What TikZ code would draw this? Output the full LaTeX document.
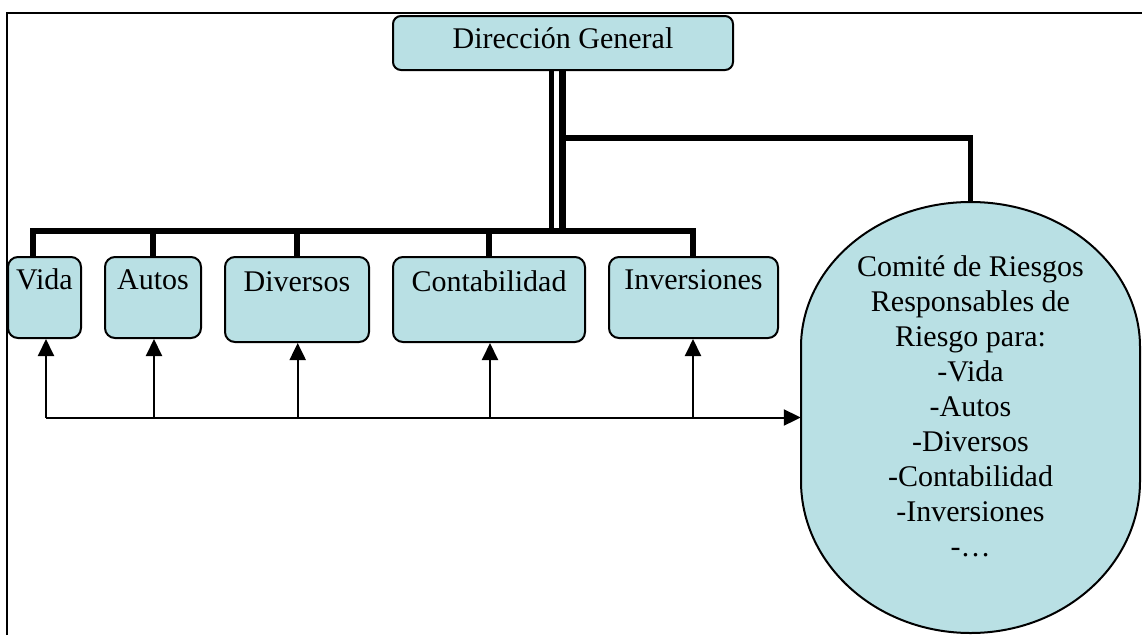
\documentclass[tikz,border=0pt]{standalone}
\usepackage{fontspec}
\setmainfont{Liberation Serif}
\usetikzlibrary{arrows.meta}
\definecolor{boxfill}{RGB}{185,224,228}
\begin{document}
\begin{tikzpicture}[x=1pt,y=1pt,
  font=\fontsize{30}{35}\selectfont,
  unitbox/.style={draw, fill=boxfill, line width=2pt, rounded corners=10pt,
    inner sep=0pt, anchor=north},
  busline/.style={line width=5.5pt, line join=miter},
  feed/.style={line width=2pt, -{Triangle[length=17pt,width=16pt]}}]
\useasboundingbox (0,0) rectangle (1142,-635);

% partial page frame (top and left)
\draw[line width=2.5pt] (7,-635) -- (7,-13) -- (1142,-13);

% head office
\node[unitbox, rounded corners=8pt, minimum width=340pt, text height=32pt, text depth=22pt]
  (dir) at (563,-15) {Dirección General};

% business units
\node[unitbox, minimum width=73pt, text height=32pt, text depth=49pt]
  (vida) at (44.5,-256) {Vida};
\node[unitbox, minimum width=96pt, text height=32pt, text depth=49pt]
  (autos) at (153,-256) {Autos};
\node[unitbox, minimum width=144pt, text height=34.7pt, text depth=50.3pt]
  (div) at (297,-256) {Diversos};
\node[unitbox, minimum width=192pt, text height=34.7pt, text depth=50.3pt]
  (cont) at (489,-256) {Contabilidad};
\node[unitbox, minimum width=169pt, text height=32pt, text depth=49pt]
  (inv) at (693.5,-256) {Inversiones};

% risk committee: an invisible holder node plus its rounded outline
\node[minimum width=339pt, minimum height=431pt, inner sep=0pt] (comite) at (970.5,-417.5) {};
\draw[fill=boxfill, line width=2pt]
  (801,-347) arc[start angle=180, end angle=0, x radius=169.5, y radius=145]
  -- (1140,-481) arc[start angle=0, end angle=-180, x radius=169.5, y radius=152]
  -- cycle;
\node[anchor=north, align=center, inner sep=0pt] (comitetxt) at (970.5,-255)
  {Comité de Riesgos\\Responsables de\\Riesgo para:\\-Vida\\-Autos\\-Diversos\\-Contabilidad\\-Inversiones\\-…};

% thick hierarchy lines
\coordinate (t1) at (551.5,-231);
\coordinate (t2) at (562,-233);
\coordinate (br) at (562,-138);
\coordinate (b1) at (33,-231);
\coordinate (b2) at (153,-231);
\coordinate (b3) at (297,-231);
\coordinate (b4) at (489,-231);
\coordinate (b5) at (693,-231);
\draw[busline] (dir.south -| t1) -- (t1);
\draw[line width=7pt] (dir.south -| t2) -- (t2);
\draw[busline] (br) -| (comite.north);
\draw[busline] (vida.north -| b1) -- (b1) -- (b5) -- (inv.north -| b5);
\draw[busline] (b2) -- (autos.north -| b2);
\draw[busline] (b3) -- (div.north -| b3);
\draw[busline] (b4) -- (cont.north -| b4);

% thin reporting lines
\coordinate (a1) at (46,-417.5);
\coordinate (a2) at (154,-417.5);
\coordinate (a3) at (297.7,-417.5);
\coordinate (a4) at (490,-417.5);
\coordinate (a5) at (693,-417.5);
\draw[feed] (a1) -- (comite.west);
\draw[feed] (a1) -- (vida.south -| a1);
\draw[feed] (a2) -- (autos.south -| a2);
\draw[feed] (a3) -- (div.south -| a3);
\draw[feed] (a4) -- (cont.south -| a4);
\draw[feed] (a5) -- (inv.south -| a5);
\end{tikzpicture}
\end{document}
